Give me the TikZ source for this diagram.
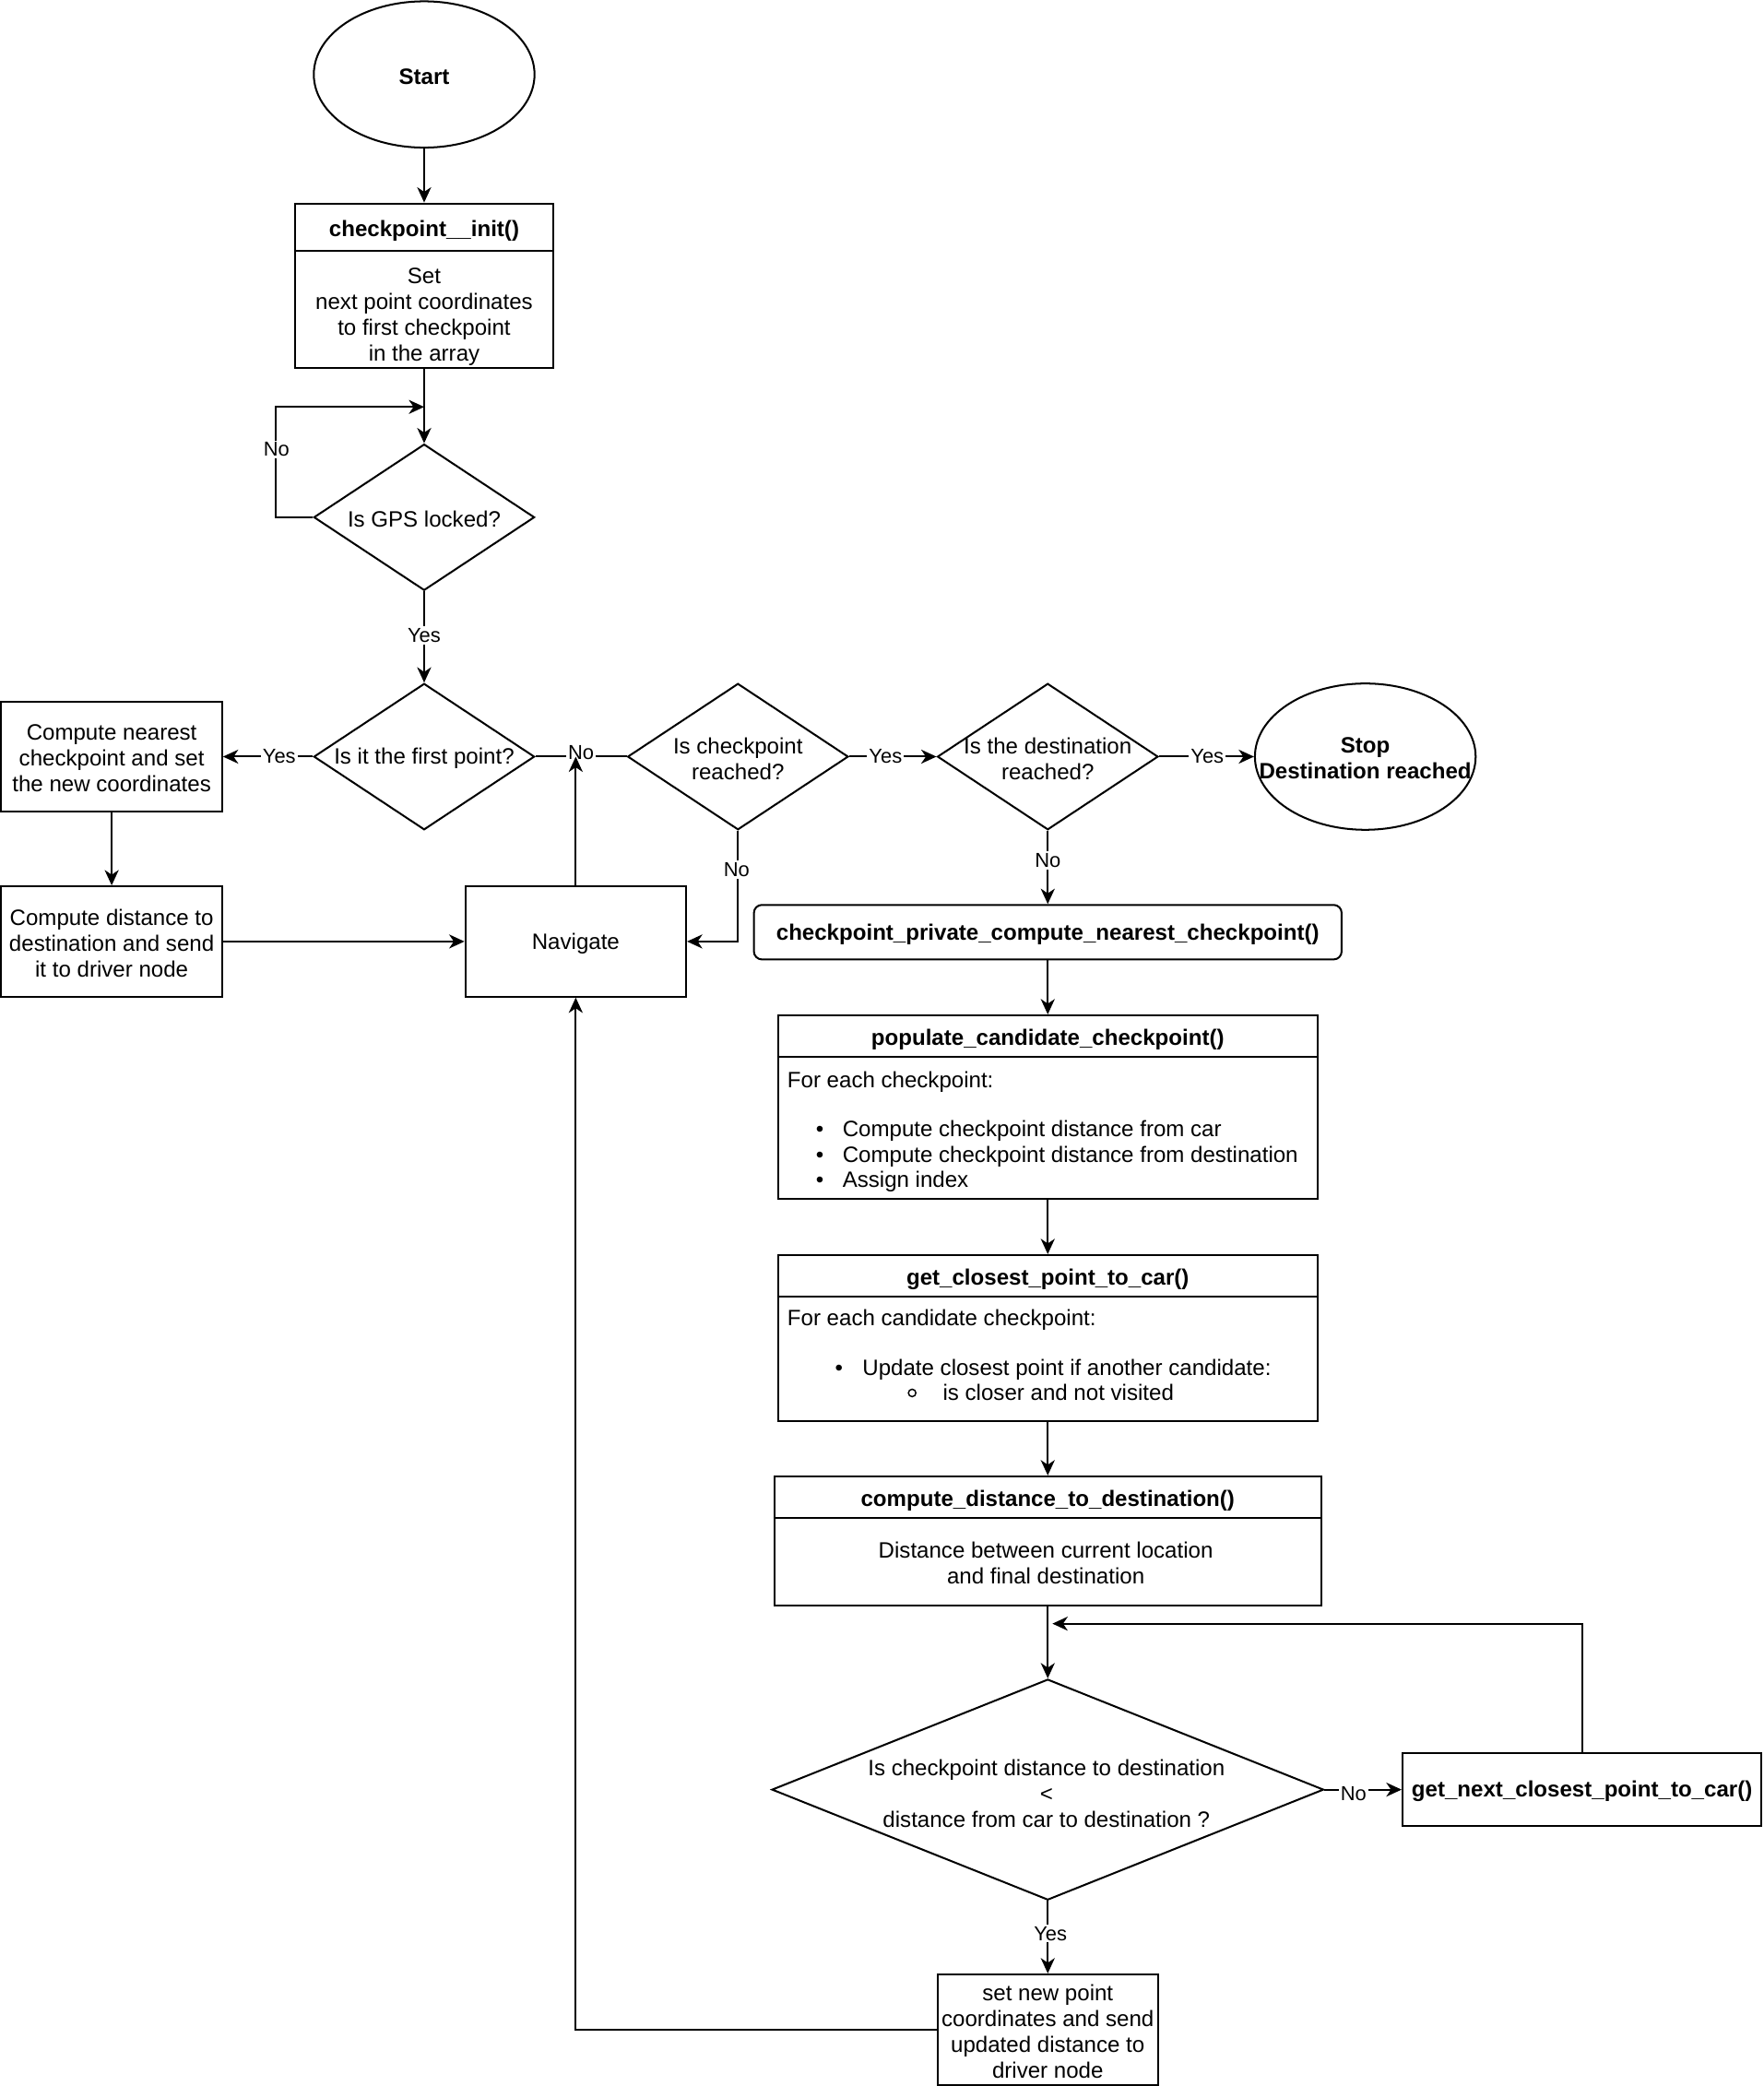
\documentclass[tikz,border=0pt]{standalone}
\usepackage{fontspec}
\setmainfont{Liberation Sans}
\usetikzlibrary{shapes.geometric,arrows.meta}
\begin{document}
\begin{tikzpicture}[x=1pt,y=-1pt,line width=1.4pt,
  every node/.style={inner sep=0pt,font=\fontsize{16.7}{19.4}\selectfont},
  bftext/.style={font=\fontsize{16.7}{19.4}\selectfont\bfseries},
  tx/.style={yshift=-1.5pt},
  shp/.style={draw,line width=1.4pt},
  boxn/.style n args={2}{shp,rectangle,minimum width=#1,minimum height=#2},
  dia/.style={shp,diamond,minimum width=166pt,minimum height=110pt},
  ell/.style={shp,ellipse,minimum width=166pt,minimum height=110pt},
  ml/.style={align=center},
  lt/.style={anchor=base west},
  arr/.style={-{Stealth[length=11.5pt,width=10.5pt,inset=3.5pt]}},
  lbl/.style={fill=white,inner sep=1.5pt,font=\fontsize{15.2}{18}\selectfont}]
\fill[white] (0,0) rectangle (1326,1568.7);
\useasboundingbox (0,0) rectangle (1326,1568.7);

% Start
\node[ell] (start) at (319,56) {};
\node[bftext,tx] (startt) at (start.center) {Start};

% checkpoint__init
\node[boxn={194pt}{124pt}] (init) at (319,215) {};
\draw ([yshift=-36pt]init.north west) -- ([yshift=-36pt]init.north east);
\node[bftext,tx] (initt) at (319,172) {checkpoint\_\_init()};
\node[ml,tx] (initb) at (319,237) {Set\\next point coordinates\\to first checkpoint\\in the array};

% GPS
\node[dia] (gps) at (319,389) {};
\node[tx] (gpst) at (gps.center) {Is GPS locked?};

% first point
\node[dia] (first) at (319,569) {};
\node[tx] (firstt) at (first.center) {Is it the first point?};

\node[boxn={166pt}{83pt}] (cnear) at (84,569) {};
\node[ml,tx] (cneart) at (cnear.center) {Compute nearest\\checkpoint and set\\the new coordinates};
\node[boxn={166pt}{83pt}] (cdist) at (84,708) {};
\node[ml,tx] (cdistt) at (cdist.center) {Compute distance to\\destination and send\\it to driver node};
\node[boxn={166pt}{83pt}] (nav) at (433,708) {};
\node[tx] (navt) at (nav.center) {Navigate};

\node[dia] (chk) at (555,569) {};
\node[ml,tx] (chkt) at (chk.center) {Is checkpoint\\reached?};

\node[dia] (dest) at (788,569) {};
\node[ml,tx] (destt) at (dest.center) {Is the destination\\reached?};

\node[ell] (stop) at (1026.8,569) {};
\node[ml,bftext,tx] (stopt) at (stop.center) {Stop\\Destination reached};

\node[shp,rectangle,rounded corners=6pt,minimum width=442pt,minimum height=41pt] (cpn) at (788,701) {};
\node[bftext,tx] (cpnt) at (cpn.center) {checkpoint\_private\_compute\_nearest\_checkpoint()};

% populate
\node[boxn={406pt}{138pt}] (pop) at (788,832.5) {};
\draw ([yshift=-32pt]pop.north west) -- ([yshift=-32pt]pop.north east);
\node[bftext,tx] (popt) at (788,780) {populate\_candidate\_checkpoint()};
\node[lt] (popb0) at (591.5,818) {For each checkpoint:};
\node[lt] (popd1) at (613,854.5) {•};
\node[lt] (popb1) at (633,854.5) {Compute checkpoint distance from car};
\node[lt] (popd2) at (613,874) {•};
\node[lt] (popb2) at (633,874) {Compute checkpoint distance from destination};
\node[lt] (popd3) at (613,893) {•};
\node[lt] (popb3) at (633,893) {Assign index};

% closest
\node[boxn={406pt}{125pt}] (clo) at (788,1006.3) {};
\draw ([yshift=-32pt]clo.north west) -- ([yshift=-32pt]clo.north east);
\node[bftext,tx] (clot) at (788,960.5) {get\_closest\_point\_to\_car()};
\node[lt] (clob0) at (591.5,997) {For each candidate checkpoint:};
\node[lt] (clod1) at (627.4,1034) {•};
\node[lt] (clob1) at (648,1034) {Update closest point if another candidate:};
\draw[line width=1pt] (686,1047.5) circle (2.8);
\node[lt] (clob2) at (708.5,1053) {is closer and not visited};

% compute distance to destination
\node[boxn={411pt}{97pt}] (cdd) at (788,1158.7) {};
\draw ([yshift=-32pt]cdd.north west) -- ([yshift=-32pt]cdd.north east);
\node[bftext,tx] (cddt) at (788,1127) {compute\_distance\_to\_destination()};
\node[ml,tx] (cddb) at (786.5,1174) {Distance between current location\\and final destination};

% big decision
\node[shp,diamond,minimum width=415pt,minimum height=166pt] (big) at (788,1345.8) {};
\node[ml,tx] (bigt) at (787,1347) {Is checkpoint distance to destination\\<\\distance from car to destination ?};

\node[boxn={270pt}{55pt}] (gnext) at (1189.8,1345.8) {};
\node[bftext,tx] (gnextt) at (gnext.center) {get\_next\_closest\_point\_to\_car()};

\node[boxn={166pt}{83pt}] (setn) at (788,1526.2) {};
\node[ml,tx] (setnt) at (setn.center) {set new point\\coordinates and send\\updated distance to\\driver node};

% join coordinates
\coordinate (gpsjoin) at (319,306);
\coordinate (navjoin) at (433,569);
\coordinate (bigjoin) at (791.5,1221);

% connectors
\draw[arr] (start) -- (init);
\draw[arr] (init) -- (gps.north);
\draw[arr] (gps.west) -- ++(-28,0) |- (gpsjoin);
\draw[arr] (gps.south) -- (first.north);
\draw[arr] (first.west) -- (cnear.east);
\draw[arr] (cnear) -- (cdist);
\draw[arr] (cdist) -- (nav);
\draw (first.east) -- (chk.west);
\draw[arr] (chk.south) |- (nav.east);
\draw[arr] (chk.east) -- (dest.west);
\draw[arr] (dest.east) -- (stop.west);
\draw[arr] (dest.south) -- (cpn.north);
\draw[arr] (cpn) -- (pop);
\draw[arr] (pop) -- (clo);
\draw[arr] (clo) -- (cdd);
\draw[arr] (cdd) -- (big.north);
\draw[arr] (big.east) -- (gnext.west);
\draw[arr] (gnext.north) |- (bigjoin);
\draw[arr] (big.south) -- (setn.north);
\draw[arr] (setn.west) -| (nav.south);

% labels
\node[lbl] (l1) at (208,338) {No};
\node[lbl] (l2) at (319,478) {Yes};
\node[lbl] (l3) at (210,569) {Yes};
\node[lbl] (l4) at (437,566) {No};
\node[lbl] (l5) at (554,654) {No};
\node[lbl] (l6) at (666,569) {Yes};
\node[lbl] (l7) at (908,569) {Yes};
\node[lbl] (l8) at (788,647) {No};
\node[lbl] (l9) at (1018,1349) {No};
\node[lbl] (l10) at (790,1454) {Yes};

\draw[arr] (nav.north) -- (navjoin);
\end{tikzpicture}
\end{document}
